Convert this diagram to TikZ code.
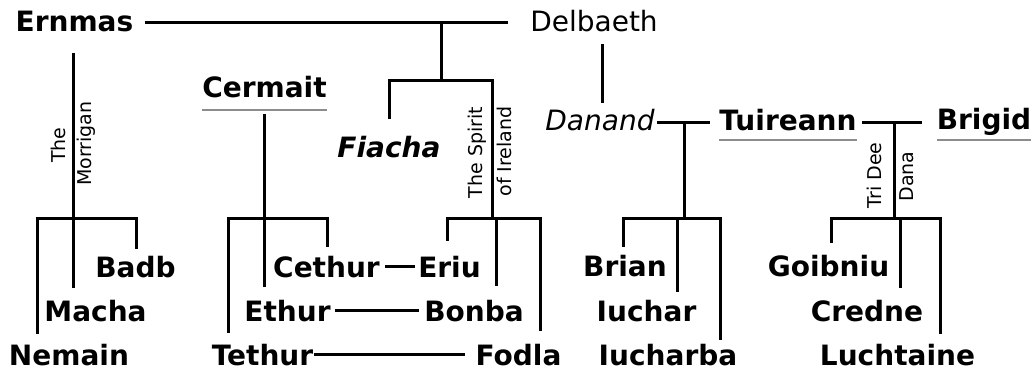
\documentclass[tikz,border=0pt]{standalone}
\usepackage{fontspec}
\setmainfont{DejaVu Sans}
\definecolor{rulegray}{gray}{0.55}
\newcommand{\godsize}{\fontsize{28}{31}\selectfont}
\newcommand{\asidesize}{\fontsize{19}{21}\selectfont}

\begin{document}
\begin{tikzpicture}[x=1pt,y=-1pt,
  kin/.style={line width=3pt},
  god/.style={font=\godsize\bfseries, inner sep=0pt, anchor=base},
  aside/.style={font=\asidesize, inner sep=0pt, anchor=base, rotate=90},
  rule/.style={line width=2.6pt, rulegray}]
\useasboundingbox (0,0) rectangle (1034,373);
% parents
\node[god] (ernmas) at (74.5,31) {Ernmas};
\node[god,font=\godsize] (delbaeth) at (594,31.5) {Delbaeth};
\node[god] (cermait) at (264.5,97) {Cermait};
\node[god,font=\godsize\bfseries\itshape] (fiacha) at (389,157) {Fiacha};
\node[god,font=\godsize\itshape] (danand) at (600,130) {Danand};
\node[god] (tuireann) at (788,130) {Tuireann};
\node[god] (brigid) at (984,129) {Brigid};
% children
\node[god] (badb) at (135.5,277) {Badb};
\node[god] (macha) at (95.5,321) {Macha};
\node[god] (nemain) at (69,365) {Nemain};
\node[god] (cethur) at (326.5,277) {Cethur};
\node[god] (ethur) at (287.5,321) {Ethur};
\node[god] (tethur) at (262.5,365) {Tethur};
\node[god] (eriu) at (449.5,277) {Eriu};
\node[god] (bonba) at (474,321) {Bonba};
\node[god] (fodla) at (518.5,365) {Fodla};
\node[god] (brian) at (625,276) {Brian};
\node[god] (iuchar) at (646.5,321) {Iuchar};
\node[god] (iucharba) at (668,365) {Iucharba};
\node[god] (goibniu) at (828.5,276) {Goibniu};
\node[god] (credne) at (867,321) {Credne};
\node[god] (luchtaine) at (897.5,365) {Luchtaine};
% group names
\node[aside] (the) at (65,145) {The};
\node[aside] (morrigan) at (91.5,143.5) {Morrigan};
\node[aside] (spirit) at (482,152.5) {The Spirit};
\node[aside] (ireland) at (511,151.5) {of Ireland};
\node[aside] (tridee) at (881,175.5) {Tri Dee};
\node[aside] (dana) at (913,176.5) {Dana};
% underlines
\draw[rule] ([yshift=-13pt]cermait.base west) -- ([yshift=-13pt]cermait.base east);
\draw[rule] ([yshift=-10pt]tuireann.base west) -- ([yshift=-10pt]tuireann.base east);
\draw[rule] ([yshift=-11pt]brigid.base west) -- ([yshift=-11pt]brigid.base east);
% unions
\coordinate (ed) at (441,22);
\coordinate (dt) at (684,122);
\coordinate (tb) at (894,122);
\draw[kin] ([xshift=11pt]ernmas.east |- ed) -- ([xshift=-22pt]delbaeth.west |- ed);
\draw[kin] (ed) -- (441,80);
\draw[kin] (389,119) -- (389,80) -- (492,80) -- (492,218);
\draw[kin] (602,44) -- (602,103);
\draw[kin] ([xshift=2pt]danand.east |- dt) -- ([xshift=-9pt]tuireann.west |- dt);
\draw[kin] (dt) -- (684,218);
\draw[kin] ([xshift=5pt]tuireann.east |- tb) -- ([xshift=-15pt]brigid.west |- tb);
\draw[kin] (tb) -- (894,218);
\draw[kin] (73,53) -- (73,288);
\draw[kin] (264,114) -- (264,287);
% sibling bars
\draw[kin] (37,334) -- (37,218) -- (136,218) -- (136,249);
\draw[kin] (228,333) -- (228,218) -- (327,218) -- (327,247);
\draw[kin] (447,241) -- (447,218) -- (540,218) -- (540,331);
\draw[kin] (496,218) -- (496,286);
\draw[kin] (623,247) -- (623,218) -- (720,218) -- (720,340);
\draw[kin] (677,218) -- (677,292);
\draw[kin] (831,243) -- (831,218) -- (940,218) -- (940,334);
\draw[kin] (900,218) -- (900,288);
% marriages between siblings
\draw[kin] ([xshift=5pt]cethur.east) -- ([xshift=-3pt]eriu.west |- cethur.east);
\draw[kin] ([xshift=4pt]ethur.east) -- ([xshift=-5pt]bonba.west |- ethur.east);
\draw[kin] ([xshift=1pt]tethur.east) -- ([xshift=-10pt]fodla.west |- tethur.east);
\end{tikzpicture}
\end{document}
